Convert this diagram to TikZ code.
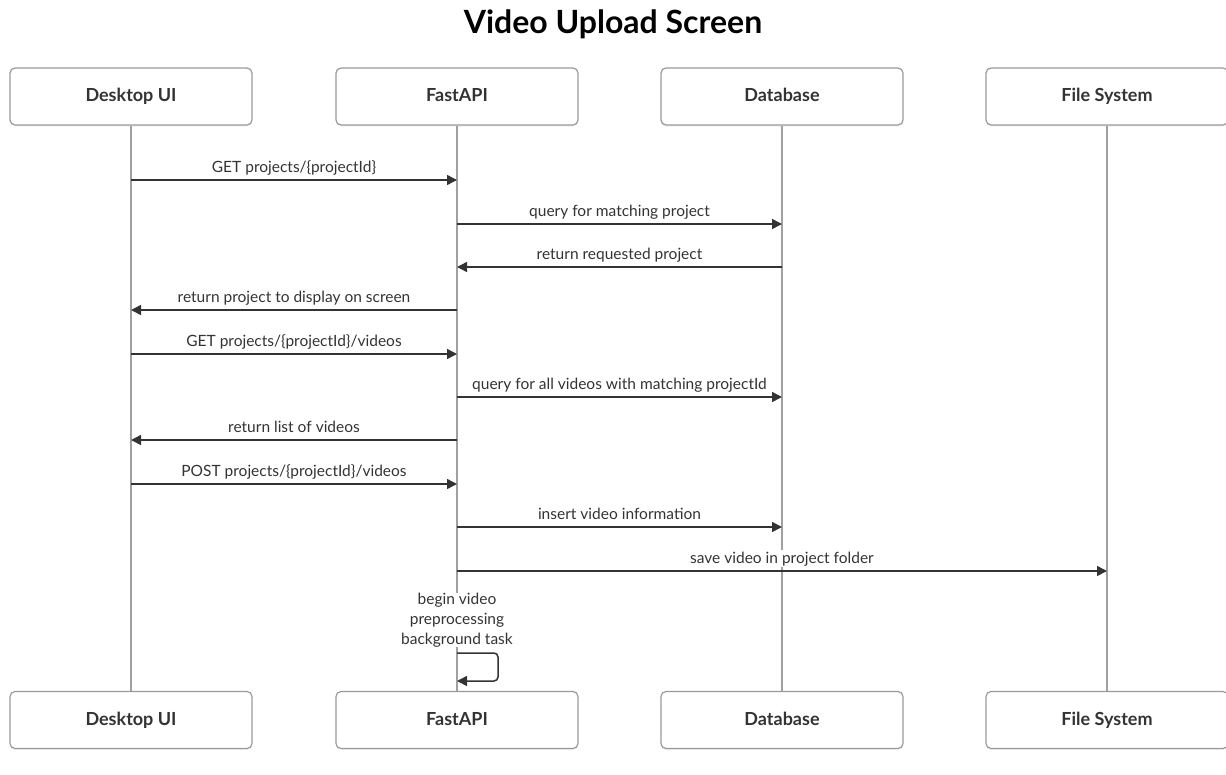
\documentclass[tikz,border=0pt]{standalone}
\usepackage{fontspec}
\setmainfont{Lato}
\usetikzlibrary{arrows.meta,shadows}
\definecolor{ink}{HTML}{333333}
\definecolor{boxline}{HTML}{9A9A9A}
\definecolor{lifecol}{HTML}{A0A0A0}
\begin{document}
\begin{tikzpicture}[x=1pt,y=-1pt,
  actor/.style={draw=boxline, line width=1.2pt, rounded corners=5pt, fill=white,
    minimum width=242pt, minimum height=57pt, text=ink,
    text height=12pt, text depth=2pt,
    font=\fontsize{18}{20}\selectfont\bfseries,
    drop shadow={opacity=0.12, shadow xshift=0pt, shadow yshift=-1.5pt}},
  life/.style={draw=lifecol, line width=1.2pt},
  msg/.style={draw=ink, line width=1.5pt, -{Triangle[length=10pt,width=10pt]}},
  lbl/.style={font=\fontsize{15.5}{18}\selectfont, text=ink, anchor=base, yshift=8pt,
    inner sep=1pt},
  note/.style={font=\fontsize{15.5}{20}\selectfont, text=ink, align=center,
    inner sep=0pt}
]
\useasboundingbox (0,0) rectangle (1226,774);

% title
\node[font=\fontsize{32}{34}\selectfont\bfseries, text=black] (title) at (613,24) {Video Upload Screen};

% participants, top and bottom
\node[actor] (dT) at (131,96.5) {Desktop UI};
\node[actor] (fT) at (457,96.5) {FastAPI};
\node[actor] (bT) at (782,96.5) {Database};
\node[actor] (sT) at (1107,96.5) {File System};
\node[actor] (dB) at (131,720) {Desktop UI};
\node[actor] (fB) at (457,720) {FastAPI};
\node[actor] (bB) at (782,720) {Database};
\node[actor] (sB) at (1107,720) {File System};

% message end points on the lifelines
\foreach \n/\y in {1/180,2/224,3/267,4/310,5/354,6/397,7/440,8/484,9/527,10/571}{
  \coordinate (d\n) at (131,\y);
  \coordinate (f\n) at (457,\y);
  \coordinate (b\n) at (782,\y);
  \coordinate (s\n) at (1107,\y);
}

% message labels
\path (d1) -- node[lbl] (l1) {GET projects/\{projectId\}} (f1);
\path (f2) -- node[lbl] (l2) {query for matching project} (b2);
\path (b3) -- node[lbl] (l3) {return requested project} (f3);
\path (f4) -- node[lbl] (l4) {return project to display on screen} (d4);
\path (d5) -- node[lbl] (l5) {GET projects/\{projectId\}/videos} (f5);
\path (f6) -- node[lbl] (l6) {query for all videos with matching projectId} (b6);
\path (f7) -- node[lbl] (l7) {return list of videos} (d7);
\path (d8) -- node[lbl] (l8) {POST projects/\{projectId\}/videos} (f8);
\path (f9) -- node[lbl] (l9) {insert video information} (b9);
\path (f10) -- node[lbl] (l10) {save video in project folder} (s10);
\node[note] (selfnote) at (457,620) {begin video\\preprocessing\\background task};

% lifelines, broken where a label lies across them
\draw[life] (dT.south) -- (dB.north);
\draw[life] (fT.south) -- (fT.south |- selfnote.north);
\draw[life] (fT.south |- selfnote.south) -- (fB.north);
\draw[life] (bT.south) -- (bT.south |- l10.north);
\draw[life] (bT.south |- l10.south) -- (bB.north);
\draw[life] (sT.south) -- (sB.north);

% messages
\draw[msg] (d1) -- (f1);
\draw[msg] (f2) -- (b2);
\draw[msg] (b3) -- (f3);
\draw[msg] (f4) -- (d4);
\draw[msg] (d5) -- (f5);
\draw[msg] (f6) -- (b6);
\draw[msg] (f7) -- (d7);
\draw[msg] (d8) -- (f8);
\draw[msg] (f9) -- (b9);
\draw[msg] (f10) -- (s10);

% self call on FastAPI
\coordinate (loopA) at (457,653);
\coordinate (loopM) at (498,667);
\coordinate (loopB) at (457,681);
\draw[msg, rounded corners=4pt] (loopA) -| (loopM) |- (loopB);
\end{tikzpicture}
\end{document}
